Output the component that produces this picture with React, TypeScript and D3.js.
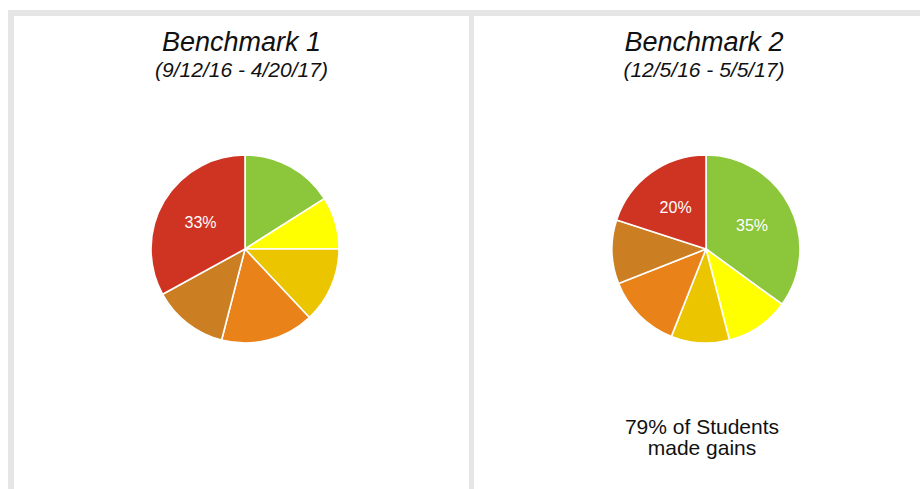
import React from 'react';
import * as d3 from 'd3';

// performance bands, in the order the slices run clockwise from 12 o'clock
const bands = ['Band 6', 'Band 5', 'Band 4', 'Band 3', 'Band 2', 'Band 1'];
const bandColors = ['#8cc63a', '#ffff00', '#ebc600', '#e88219', '#cc7f22', '#cf3423'];

const benchmark1Values = [16, 9, 13, 16, 13, 33];
const benchmark2Values = [35, 11, 10, 13, 11, 20];

const titles = ['Benchmark 1', 'Benchmark 2'];
const subtitles = ['(9/12/16 - 4/20/17)', '(12/5/16 - 5/5/17)'];
const footnoteLines = ['79% of Students', 'made gains'];

const FONT = 'Arial, "Liberation Sans", sans-serif';
const FRAME = '#e6e6e6';
const W = 920;
const H = 489;

interface Slice { band: string; value: number; color: string }

function Pie({ cx, cy, r, values }: { cx: number, cy: number, r: number, values: number[] }) {
  const data: Slice[] = bands.map((band, i) => ({ band, value: values[i], color: bandColors[i] }));
  const total = d3.sum(values);

  const pie = d3.pie<Slice>().value(d => d.value).sort(null);
  const arc = d3.arc<d3.PieArcDatum<Slice>>().innerRadius(0).outerRadius(r);
  const labelArc = d3.arc<d3.PieArcDatum<Slice>>().innerRadius(r * 0.55).outerRadius(r * 0.55);

  const arcs = pie(data);

  return (
    <g transform={`translate(${cx}, ${cy})`}>
      {arcs.map(a => (
        <path key={a.data.band} d={arc(a) || ''} fill={a.data.color} stroke="#fff" strokeWidth={1.6} strokeLinejoin="round" />
      ))}
      {arcs.filter(a => a.data.value / total >= 0.2).map(a => {
        const [x, y] = labelArc.centroid(a);
        return (
          <text key={`lbl-${a.data.band}`} x={x} y={y} dy="0.35em" textAnchor="middle"
            fill="#fff" fontFamily={FONT} fontSize={16}>
            {`${Math.round(a.data.value / total * 100)}%`}
          </text>
        );
      })}
    </g>
  );
}

const App = () => {
  const panelX = d3.scaleOrdinal<number, number>().domain([0, 1]).range([241.5, 704]);
  const pieX = d3.scaleOrdinal<number, number>().domain([0, 1]).range([245, 706]);
  const pieY = 249;
  const radius = 94;
  const series = [benchmark1Values, benchmark2Values];

  return (
    <svg width={W} height={H} style={{ position: 'absolute', left: 0, top: 0, background: '#fff' }}>
      {/* frame */}
      <rect x={8} y={10} width={W - 8} height={6} fill={FRAME} />
      <rect x={8} y={10} width={6} height={H - 10} fill={FRAME} />
      <rect x={469} y={16} width={5} height={H - 16} fill={FRAME} />

      {series.map((values, i) => (
        <g key={titles[i]}>
          <text x={panelX(i)} y={51} textAnchor="middle" fontFamily={FONT} fontStyle="italic"
            fontSize={27} fill="#111">{titles[i]}</text>
          <text x={panelX(i)} y={77} textAnchor="middle" fontFamily={FONT} fontStyle="italic"
            fontSize={21} fill="#111">{subtitles[i]}</text>
          <Pie cx={pieX(i)} cy={pieY} r={radius} values={values} />
        </g>
      ))}

      {footnoteLines.map((line, i) => (
        <text key={line} x={702} y={434 + i * 21} textAnchor="middle" fontFamily={FONT}
          fontSize={21} fill="#111">{line}</text>
      ))}
    </svg>
  );
};

export default App;
